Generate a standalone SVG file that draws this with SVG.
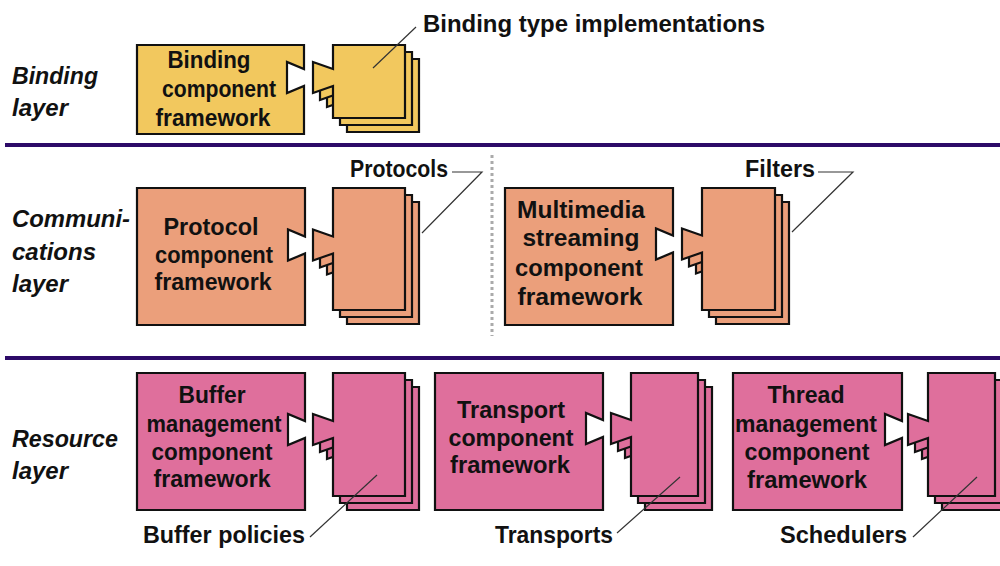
<svg xmlns="http://www.w3.org/2000/svg" width="1000" height="566" viewBox="0 0 1000 566">
<style>
text{font-family:"Liberation Sans",Arial,sans-serif;font-weight:bold;font-size:24px;fill:#111}
.c{text-anchor:middle}
.lay{font-style:italic}
.fr{stroke:#111;stroke-width:2.2;stroke-linejoin:miter}
.y{fill:#f2c85e}
.s{fill:#eb9f7b}
.p{fill:#df6f9c}
.lead{fill:none;stroke:#333;stroke-width:1.2}
.sep{stroke:#2d0a68;stroke-width:4}
.dot{stroke:#aaa;stroke-width:3;stroke-dasharray:3 3}
</style>
<defs>
<path id="cardB" d="M333,45 H405 V118 H333 V86 L313,93 V62 L333,69 Z"/>
<path id="cardP" d="M333,188 H405 V310 H333 V253.5 L313,260.5 V229.5 L333,236.5 Z"/>
<path id="cardM" d="M702,188 H775 V310 H702 V252.5 L682,259.5 V228.5 L702,235.5 Z"/>
<path id="cardBu" d="M333,373 H405 V496 H333 V438 L313,445 V414 L333,421 Z"/>
<path id="cardT" d="M631,373 H698 V496 H631 V437 L611,444 V413 L631,420 Z"/>
<path id="cardTh" d="M928,373 H995 V496 H928 V438 L908,445 V414 L928,421 Z"/>
</defs>

<g id="separators">
<line class="sep" x1="5" y1="145" x2="1000" y2="145"/>
<line class="sep" x1="5" y1="358" x2="1000" y2="358"/>
<line class="dot" x1="492" y1="155" x2="492" y2="336"/>
</g>

<g id="layer-labels">
<text class="lay" x="12" y="84" textLength="86" lengthAdjust="spacingAndGlyphs">Binding</text>
<text class="lay" x="12" y="116" textLength="56" lengthAdjust="spacingAndGlyphs">layer</text>
<text class="lay" x="12" y="227" textLength="118" lengthAdjust="spacingAndGlyphs">Communi-</text>
<text class="lay" x="12" y="260" textLength="84" lengthAdjust="spacingAndGlyphs">cations</text>
<text class="lay" x="12" y="292" textLength="56" lengthAdjust="spacingAndGlyphs">layer</text>
<text class="lay" x="12" y="447" textLength="106" lengthAdjust="spacingAndGlyphs">Resource</text>
<text class="lay" x="12" y="479" textLength="56" lengthAdjust="spacingAndGlyphs">layer</text>
</g>

<g id="binding-framework">
<path class="fr y" d="M137,45 H304 V69 L287,62 V93 L304,86 V134 H137 Z"/>
<text class="c" x="209" y="68" textLength="83" lengthAdjust="spacingAndGlyphs">Binding</text>
<text class="c" x="219" y="97" textLength="114" lengthAdjust="spacingAndGlyphs">component</text>
<text class="c" x="213" y="126" textLength="115" lengthAdjust="spacingAndGlyphs">framework</text>
</g>
<g id="binding-implementations">
<use href="#cardB" class="fr y" transform="translate(14,14)"/>
<use href="#cardB" class="fr y" transform="translate(7,7)"/>
<use href="#cardB" class="fr y"/>
<text x="423" y="32" textLength="342" lengthAdjust="spacingAndGlyphs">Binding type implementations</text>
</g>

<g id="protocol-framework">
<path class="fr s" d="M137,188 H305 V236.5 L288,229.5 V260.5 L305,253.5 V325 H137 Z"/>
<text class="c" x="211" y="235" textLength="95" lengthAdjust="spacingAndGlyphs">Protocol</text>
<text class="c" x="214" y="263" textLength="118" lengthAdjust="spacingAndGlyphs">component</text>
<text class="c" x="213" y="290" textLength="117" lengthAdjust="spacingAndGlyphs">framework</text>
</g>
<g id="protocols">
<use href="#cardP" class="fr s" transform="translate(14,14)"/>
<use href="#cardP" class="fr s" transform="translate(7,7)"/>
<use href="#cardP" class="fr s"/>
<text x="350" y="177" textLength="98" lengthAdjust="spacingAndGlyphs">Protocols</text>
</g>

<g id="multimedia-framework">
<path class="fr s" d="M505,188 H673 V235.5 L656,228.5 V259.5 L673,252.5 V325 H505 Z"/>
<text class="c" x="581" y="218" textLength="128" lengthAdjust="spacingAndGlyphs">Multimedia</text>
<text class="c" x="581" y="246" textLength="117" lengthAdjust="spacingAndGlyphs">streaming</text>
<text class="c" x="579" y="276" textLength="128" lengthAdjust="spacingAndGlyphs">component</text>
<text class="c" x="580" y="305" textLength="125" lengthAdjust="spacingAndGlyphs">framework</text>
</g>
<g id="filters">
<use href="#cardM" class="fr s" transform="translate(14,14)"/>
<use href="#cardM" class="fr s" transform="translate(7,7)"/>
<use href="#cardM" class="fr s"/>
<text x="745" y="177" textLength="70" lengthAdjust="spacingAndGlyphs">Filters</text>
</g>

<g id="buffer-framework">
<path class="fr p" d="M137,373 H305 V421 L288,414 V445 L305,438 V510 H137 Z"/>
<text class="c" x="212" y="403" textLength="67" lengthAdjust="spacingAndGlyphs">Buffer</text>
<text class="c" x="214" y="432" textLength="135" lengthAdjust="spacingAndGlyphs">management</text>
<text class="c" x="212" y="460" textLength="121" lengthAdjust="spacingAndGlyphs">component</text>
<text class="c" x="212" y="487" textLength="117" lengthAdjust="spacingAndGlyphs">framework</text>
</g>
<g id="buffer-policies">
<use href="#cardBu" class="fr p" transform="translate(14,14)"/>
<use href="#cardBu" class="fr p" transform="translate(7,7)"/>
<use href="#cardBu" class="fr p"/>
<text x="143" y="543" textLength="162" lengthAdjust="spacingAndGlyphs">Buffer policies</text>
</g>

<g id="transport-framework">
<path class="fr p" d="M435,373 H603 V420 L586,413 V444 L603,437 V510 H435 Z"/>
<text class="c" x="511" y="418" textLength="108" lengthAdjust="spacingAndGlyphs">Transport</text>
<text class="c" x="511" y="446" textLength="125" lengthAdjust="spacingAndGlyphs">component</text>
<text class="c" x="510" y="473" textLength="120" lengthAdjust="spacingAndGlyphs">framework</text>
</g>
<g id="transports">
<use href="#cardT" class="fr p" transform="translate(14,14)"/>
<use href="#cardT" class="fr p" transform="translate(7,7)"/>
<use href="#cardT" class="fr p"/>
<text x="495" y="543" textLength="118" lengthAdjust="spacingAndGlyphs">Transports</text>
</g>

<g id="thread-framework">
<path class="fr p" d="M733,373 H902 V421 L885,414 V445 L902,438 V510 H733 Z"/>
<text class="c" x="806" y="403" textLength="77" lengthAdjust="spacingAndGlyphs">Thread</text>
<text class="c" x="806" y="432" textLength="142" lengthAdjust="spacingAndGlyphs">management</text>
<text class="c" x="807" y="460" textLength="125" lengthAdjust="spacingAndGlyphs">component</text>
<text class="c" x="807" y="488" textLength="120" lengthAdjust="spacingAndGlyphs">framework</text>
</g>
<g id="schedulers">
<use href="#cardTh" class="fr p" transform="translate(14,14)"/>
<use href="#cardTh" class="fr p" transform="translate(7,7)"/>
<use href="#cardTh" class="fr p"/>
<text x="780" y="543" textLength="127" lengthAdjust="spacingAndGlyphs">Schedulers</text>
</g>

<g id="connectors">
<polyline class="lead" points="416,27 373,68"/>
<polyline class="lead" points="452,172 482,172 422,233"/>
<polyline class="lead" points="818,172 853,172 792,232"/>
<polyline class="lead" points="310,537 377,475"/>
<polyline class="lead" points="617,533 680,477"/>
<polyline class="lead" points="913,537 977,477"/>
</g>
</svg>
